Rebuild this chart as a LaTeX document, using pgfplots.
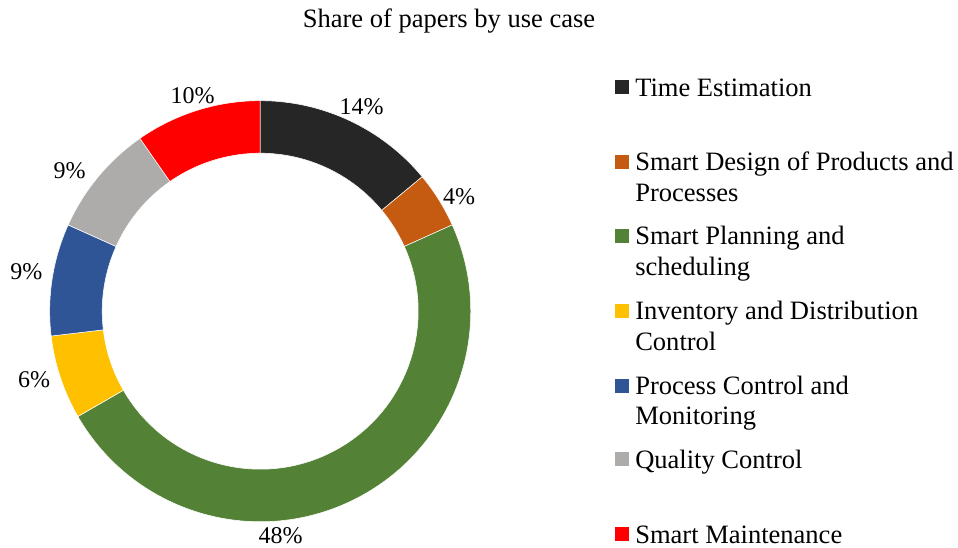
\documentclass[border=0pt]{standalone}
\usepackage{pgfplots}
\pgfplotsset{compat=1.18}
\usepackage{fontspec}
\setmainfont{Liberation Serif}
\definecolor{cTime}{HTML}{262626}
\definecolor{cDesign}{HTML}{C55A11}
\definecolor{cPlan}{HTML}{538135}
\definecolor{cInv}{HTML}{FFC000}
\definecolor{cProc}{HTML}{2F5597}
\definecolor{cQual}{HTML}{AEABAB}
\definecolor{cMaint}{HTML}{FF0000}
\newcommand\lfont{\fontsize{19.9}{23}\selectfont}
\newcommand\pfont{\fontsize{18}{21}\selectfont}
\begin{document}
\begin{tikzpicture}
\begin{axis}[at={(0,0)}, anchor=south west, x=0.75pt, y=0.75pt,
  xmin=0, xmax=958, ymin=0, ymax=547, hide axis, clip=false,
  /pgf/number format/assume math mode=true]
% donut slices: counts of papers (total 93), clockwise from 12 o'clock
\pgfplotsextra{
  \def\R{157.9pt}\def\r{118.5pt}
  \gdef\cum{0}
  \foreach \v/\c in {13/cTime,4/cDesign,45/cPlan,6/cInv,8/cProc,8/cQual,9/cMaint}{
    \pgfmathsetmacro\aone{90-\cum/93*360}
    \pgfmathsetmacro\newcum{\cum+\v}
    \pgfmathsetmacro\atwo{90-\newcum/93*360}
    \xdef\cum{\newcum}
    \fill[\c, draw=white, line width=0.4pt] ([shift={(\aone:\R)}]axis cs:260.2,235.8)
      arc[start angle=\aone, end angle=\atwo, radius=\R]
      -- ([shift={(\atwo:\r)}]axis cs:260.2,235.8)
      arc[start angle=\atwo, end angle=\aone, radius=\r] -- cycle;
  }
}
% percentage labels
\addplot[draw=none, mark=none, point meta=explicit,
  nodes near coords={\pgfmathprintnumber[fixed,precision=0,assume math mode=true]{\pgfplotspointmeta}\%},
  nodes near coords style={anchor=base, inner sep=0pt, font=\pfont, text=black}]
  table[meta=p] {
x y p
361.5 432.0 14
459.0 342.0 4
280.7 3.7 48
34.0 159.3 6
26.3 267.0 9
69.5 368.0 9
192.5 443.0 10
};
% title
\node[anchor=base, font=\lfont, inner sep=0pt] at (axis cs:449,519.3) {Share of papers by use case};
% legend
\pgfplotsextra{
  \foreach \c/\b in {cTime/96.5,cDesign/170.7,cPlan/245,cInv/320,cProc/395,cQual/468.3,cMaint/543.3}{
    \pgfmathsetmacro\ytop{547-\b+16}
    \pgfmathsetmacro\ybot{547-\b+2}
    \fill[\c] (axis cs:615,\ybot) rectangle (axis cs:629,\ytop);
  }
  \foreach \t/\b in {Time Estimation/96.5,
      Smart Design of Products and/170.7, Processes/201.7,
      Smart Planning and/245, scheduling/276,
      Inventory and Distribution/320, Control/350.7,
      Process Control and/395, Monitoring/425,
      Quality Control/468.3, Smart Maintenance/543.3}{
    \pgfmathsetmacro\yb{547-\b}
    \node[anchor=base west, inner sep=0pt, font=\lfont] at (axis cs:635,\yb) {\t};
  }
}
\end{axis}
\pgfresetboundingbox
\useasboundingbox (0,0) rectangle (718.5pt,410.25pt);
\end{tikzpicture}
\end{document}
